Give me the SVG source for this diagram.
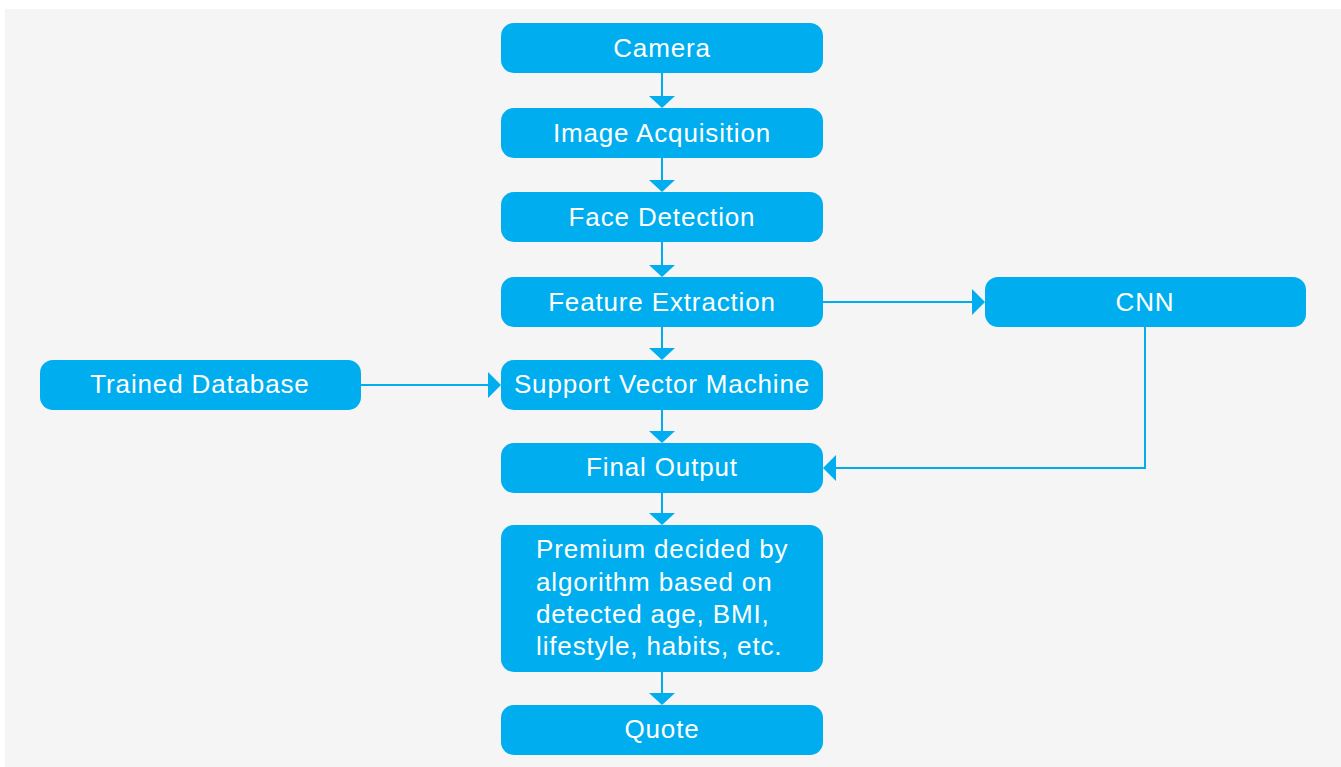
<svg xmlns="http://www.w3.org/2000/svg" width="1341" height="767" viewBox="0 0 1341 767">
<defs>
<style>
.bg{fill:#ffffff}
.panel{fill:#f5f5f5}
.box{fill:#00aeef}
.t{font-family:"Liberation Sans",Arial,sans-serif;font-size:26px;fill:#ffffff;letter-spacing:0.85px}
.c{text-anchor:middle}
.ln{fill:none;stroke:#00aeef;stroke-width:2}
.ah{fill:#00aeef}
</style>
</defs>
<rect class="bg" x="0" y="0" width="1341" height="767"/>
<rect class="panel" x="5" y="9" width="1336" height="758"/>
<g id="connectors">
<line class="ln" x1="662" y1="73" x2="662" y2="98"/><polygon class="ah" points="649,96 675,96 662,108"/>
<line class="ln" x1="662" y1="158" x2="662" y2="182"/><polygon class="ah" points="649,180 675,180 662,192"/>
<line class="ln" x1="662" y1="242" x2="662" y2="267"/><polygon class="ah" points="649,265 675,265 662,277"/>
<line class="ln" x1="662" y1="327" x2="662" y2="350"/><polygon class="ah" points="649,348 675,348 662,360"/>
<line class="ln" x1="662" y1="410" x2="662" y2="433"/><polygon class="ah" points="649,431 675,431 662,443"/>
<line class="ln" x1="662" y1="493" x2="662" y2="515"/><polygon class="ah" points="649,513 675,513 662,525"/>
<line class="ln" x1="662" y1="672" x2="662" y2="695"/><polygon class="ah" points="649,693 675,693 662,705"/>
<line class="ln" x1="823" y1="302" x2="975" y2="302"/><polygon class="ah" points="972,289 972,315 985,302"/>
<line class="ln" x1="361" y1="385" x2="491" y2="385"/><polygon class="ah" points="488,372 488,398 501,385"/>
<polyline class="ln" points="1145,327 1145,468 833,468"/><polygon class="ah" points="836,455 836,481 823,468"/>
</g>
<g id="camera"><rect class="box" x="501" y="23" width="322" height="50" rx="13"/><text class="t c" x="662" y="57">Camera</text></g>
<g id="image-acquisition"><rect class="box" x="501" y="108" width="322" height="50" rx="13"/><text class="t c" x="662" y="142">Image Acquisition</text></g>
<g id="face-detection"><rect class="box" x="501" y="192" width="322" height="50" rx="13"/><text class="t c" x="662" y="226">Face Detection</text></g>
<g id="feature-extraction"><rect class="box" x="501" y="277" width="322" height="50" rx="13"/><text class="t c" x="662" y="311">Feature Extraction</text></g>
<g id="cnn"><rect class="box" x="985" y="277" width="321" height="50" rx="13"/><text class="t c" x="1145" y="311">CNN</text></g>
<g id="trained-database"><rect class="box" x="40" y="360" width="321" height="50" rx="13"/><text class="t c" x="200" y="393">Trained Database</text></g>
<g id="svm"><rect class="box" x="501" y="360" width="322" height="50" rx="13"/><text class="t c" x="662" y="393">Support Vector Machine</text></g>
<g id="final-output"><rect class="box" x="501" y="443" width="322" height="50" rx="13"/><text class="t c" x="662" y="476">Final Output</text></g>
<g id="premium"><rect class="box" x="501" y="525" width="322" height="147" rx="13"/>
<text class="t" x="536" y="558">Premium decided by</text>
<text class="t" x="536" y="591">algorithm based on</text>
<text class="t" x="536" y="623">detected age, BMI,</text>
<text class="t" x="536" y="655">lifestyle, habits, etc.</text></g>
<g id="quote"><rect class="box" x="501" y="705" width="322" height="50" rx="13"/><text class="t c" x="662" y="738">Quote</text></g>
</svg>
